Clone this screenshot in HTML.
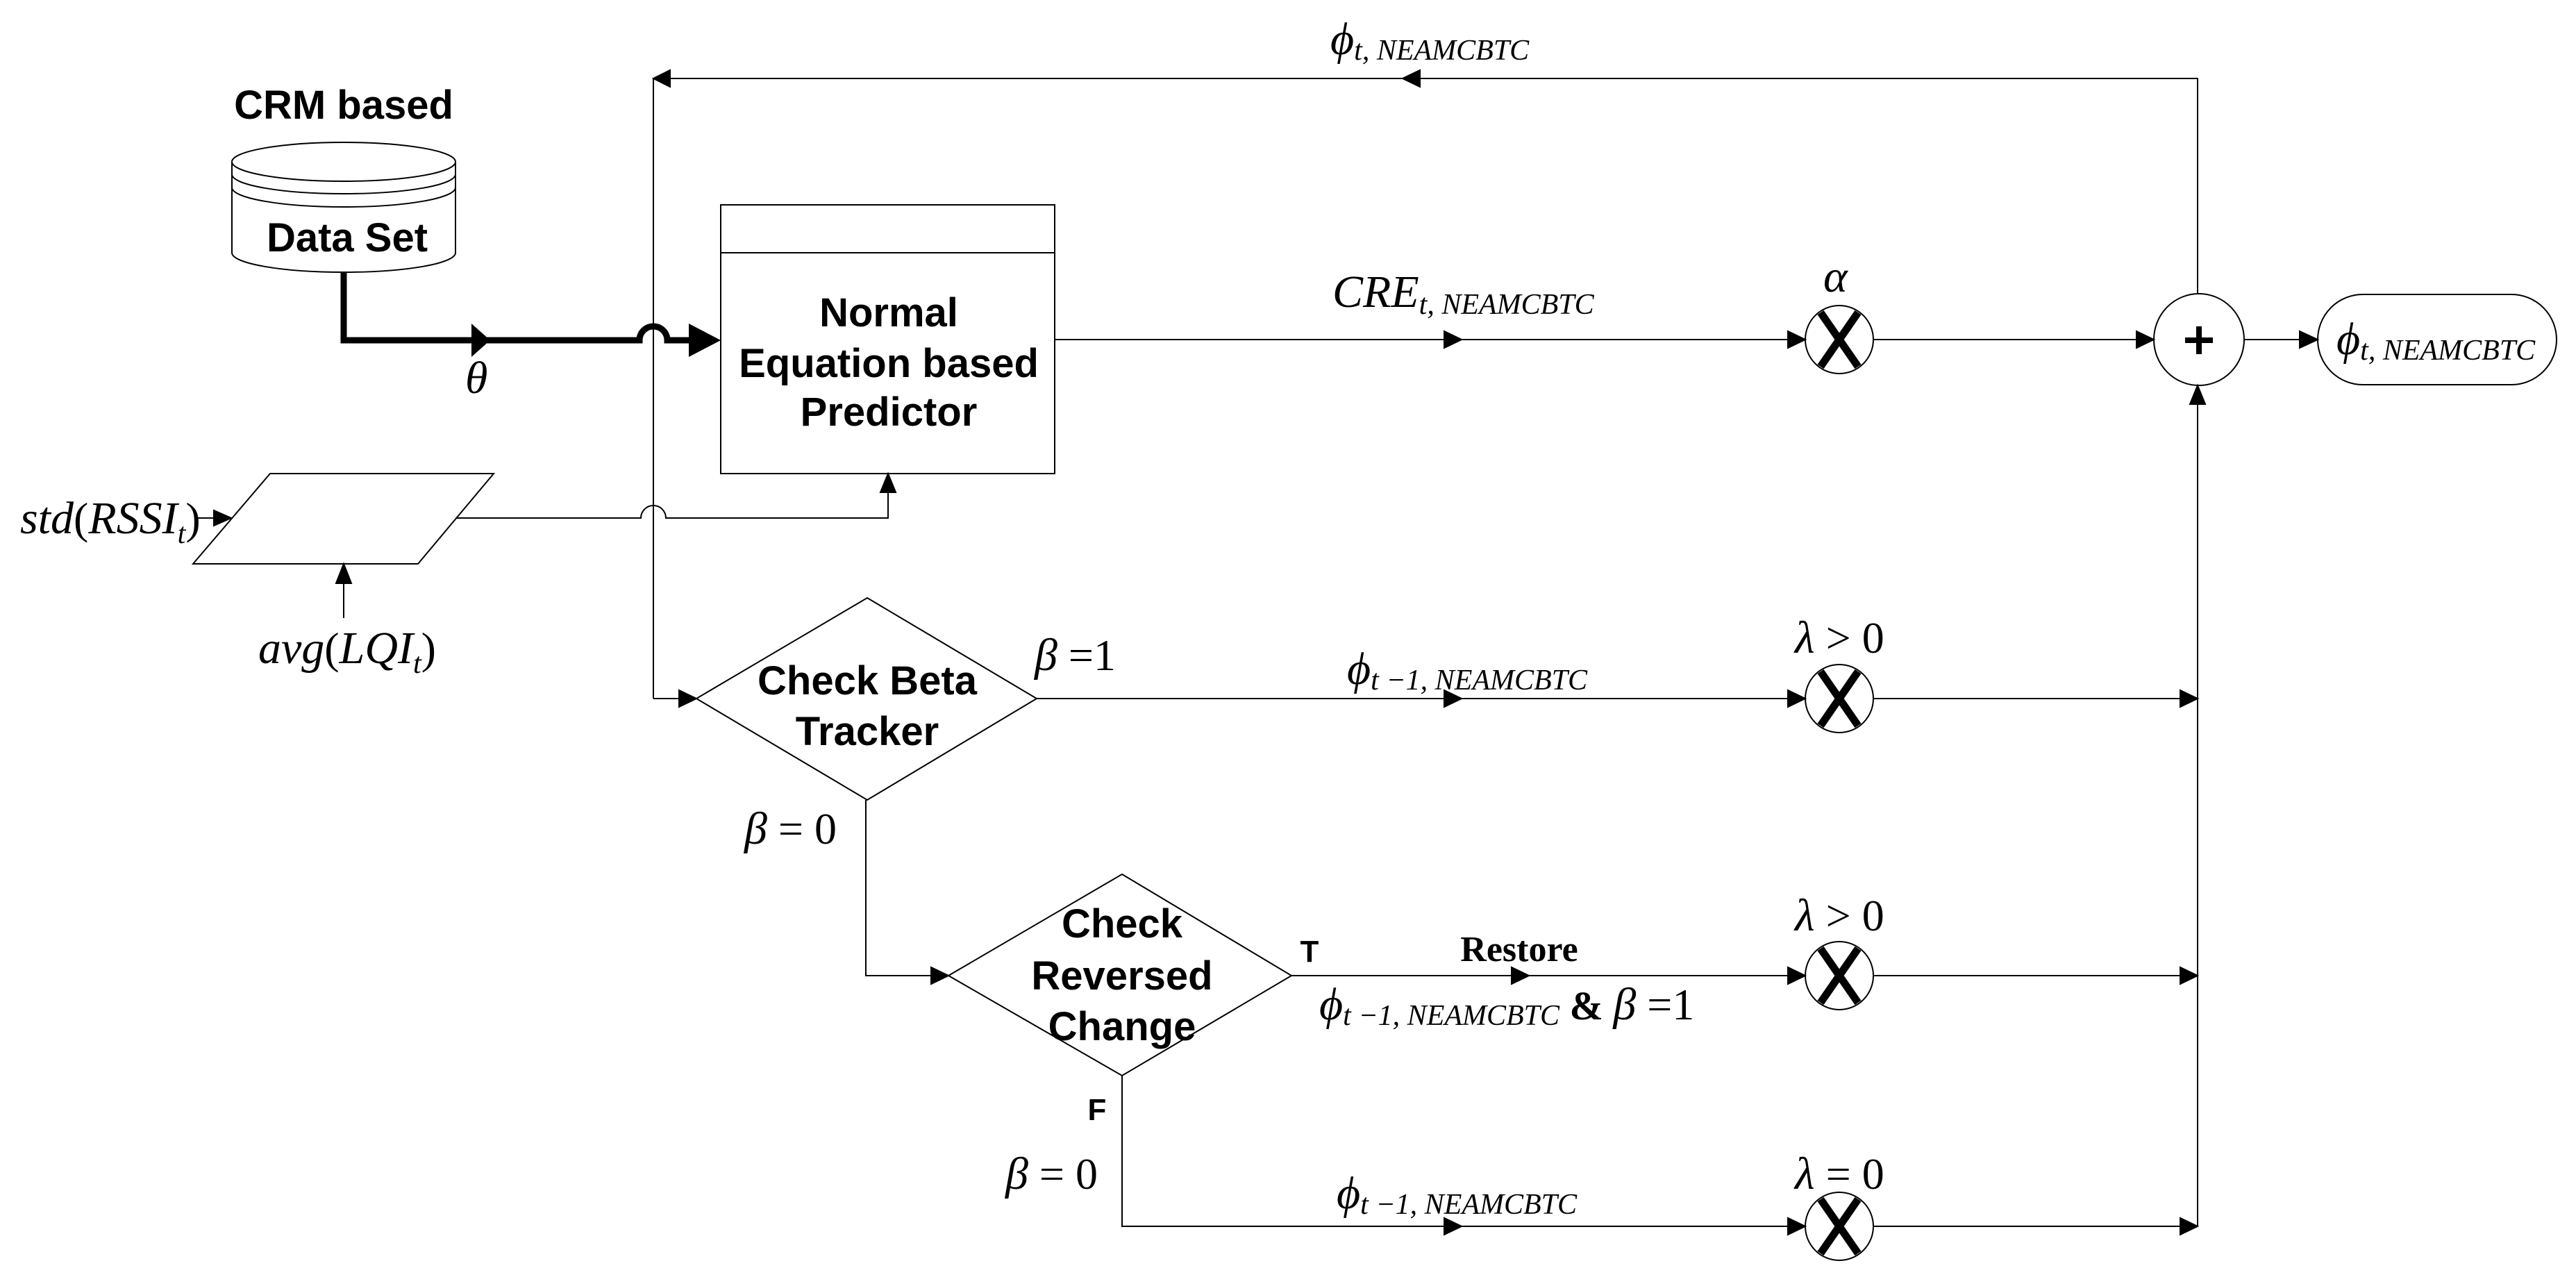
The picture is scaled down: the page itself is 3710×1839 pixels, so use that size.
<!DOCTYPE html>
<html><head><meta charset="utf-8"><style>
html,body{margin:0;padding:0;background:#fff}
svg{display:block}
.b{font-family:"Liberation Sans Narrow","Liberation Sans",sans-serif;font-weight:bold;font-size:58px;text-anchor:middle}
.m{font-family:"Liberation Serif",serif;font-style:italic;font-size:66px}
.s{font-family:"Liberation Serif",serif;font-style:italic;font-size:42px}
.r{font-family:"Liberation Serif",serif;font-size:64px}
</style></head><body>
<svg width="3710" height="1839" viewBox="0 0 3710 1839" xmlns="http://www.w3.org/2000/svg">
<g fill="none" stroke="#000" stroke-width="2">
<path d="M3165,423V113H941V1006"/>
<path d="M2045,101L2020,113L2045,125z" fill="#000"/>
<path d="M965,101L941,113L965,125z" fill="#000"/>
<path d="M334,233V364A161,28 0 0 0 656,364V233"/>
<ellipse cx="495" cy="233" rx="161" ry="28"/>
<path d="M334,251A161,28 0 0 0 656,251M334,270A161,28 0 0 0 656,270"/>
<path d="M495,392V490H921A20,20 0 0 1 961,490H995" stroke-width="9"/>
<path d="M679,466L706,490L679,514z" fill="#000" stroke="none"/>
<path d="M992,466L1038,490L992,514z" fill="#000" stroke="none"/>
<rect x="1038" y="295" width="481" height="387"/>
<path d="M1038,364H1519"/>
<path d="M389,682H711L602,812H278z"/>
<path d="M658,746H923A18,18 0 0 1 959,746H1279V682"/>
<path d="M1268,709L1279,682L1290,709z" fill="#000"/>
<path d="M283,746H330"/><path d="M308,735L333,746L308,757z" fill="#000"/>
<path d="M495,890V812"/><path d="M484,840L495,812L506,840z" fill="#000"/>
<path d="M1519,489H2600M2698,489H3102M3232,489H3338"/>
<path d="M2080,477L2105,489L2080,501z" fill="#000"/>
<path d="M2575,477L2600,489L2575,501z" fill="#000"/>
<path d="M3077,477L3102,489L3077,501z" fill="#000"/>
<path d="M3312,477L3338,489L3312,501z" fill="#000"/>
<ellipse cx="2649" cy="489" rx="49" ry="49"/>
<path d="M2622,450L2676,528M2676,450L2622,528" stroke-width="11"/>
<ellipse cx="3167" cy="489" rx="65" ry="66"/>
<rect x="3338" y="424" width="344" height="130" rx="65" ry="65"/>
<path d="M3165,555V1766"/>
<path d="M3154,582L3165,555L3176,582z" fill="#000"/>
<path d="M1249,861L1493,1006L1249,1152L1003,1006z"/>
<path d="M941,1006H1003"/><path d="M978,994L1003,1006L978,1018z" fill="#000"/>
<path d="M1493,1006H2600M2698,1006H3165"/>
<path d="M1247,1152V1405H1366"/><path d="M1341,1393L1366,1405L1341,1417z" fill="#000"/>
<path d="M1616,1259L1860,1405L1616,1549L1366,1405z"/>
<path d="M1860,1405H2600M2698,1405H3165"/>
<path d="M1616,1549V1766H2600M2698,1766H3165"/>
<g fill="#000">
<path d="M2080,994L2105,1006L2080,1018z"/><path d="M2575,994L2600,1006L2575,1018z"/><path d="M3140,994L3165,1006L3140,1018z"/>
<path d="M2177,1393L2202,1405L2177,1417z"/><path d="M2575,1393L2600,1405L2575,1417z"/><path d="M3140,1393L3165,1405L3140,1417z"/>
<path d="M2080,1754L2105,1766L2080,1778z"/><path d="M2575,1754L2600,1766L2575,1778z"/><path d="M3140,1754L3165,1766L3140,1778z"/>
</g>
<ellipse cx="2649" cy="1006" rx="49" ry="49"/><path d="M2622,967L2676,1045M2676,967L2622,1045" stroke-width="11"/>
<ellipse cx="2649" cy="1405" rx="49" ry="49"/><path d="M2622,1366L2676,1444M2676,1366L2622,1444" stroke-width="11"/>
<ellipse cx="2649" cy="1766" rx="49" ry="49"/><path d="M2622,1727L2676,1805M2676,1727L2622,1805" stroke-width="11"/>
</g>
<path d="M3167,470V510M3147,490H3187" stroke="#000" stroke-width="8"/>
<text class="b" x="495" y="171">CRM based</text>
<text class="b" x="500" y="362">Data Set</text>
<text class="b" x="1280" y="470">Normal</text>
<text class="b" x="1280" y="543">Equation based</text>
<text class="b" x="1280" y="613">Predictor</text>
<text class="b" x="1249" y="1000">Check Beta</text>
<text class="b" x="1249" y="1073">Tracker</text>
<text class="b" x="1616" y="1350">Check</text>
<text class="b" x="1616" y="1425">Reversed</text>
<text class="b" x="1616" y="1498">Change</text>
<text class="b" x="1886" y="1385" style="font-size:44px">T</text>
<text class="b" x="1580" y="1613" style="font-size:44px">F</text>
<text x="2188" y="1384" style="font-family:'Liberation Serif',serif;font-weight:bold;font-size:52px;text-anchor:middle">Restore</text>
<text class="m" x="670" y="566">θ</text>
<text x="29" y="768"><tspan class="m">std</tspan><tspan class="r">(</tspan><tspan class="m">RSSI</tspan><tspan class="s" dy="14">t</tspan><tspan class="r" dy="-14">)</tspan></text>
<text x="372" y="955"><tspan class="m">avg</tspan><tspan class="r">(</tspan><tspan class="m">LQI</tspan><tspan class="s" dy="14">t</tspan><tspan class="r" dy="-14">)</tspan></text>
<text x="1916" y="78"><tspan class="m">ϕ</tspan><tspan class="s" dy="8">t, NEAMCBTC</tspan></text>
<text x="1919" y="442"><tspan class="m">CRE</tspan><tspan class="s" dy="10">t, NEAMCBTC</tspan></text>
<text class="m" x="2626" y="420">α</text>
<text x="3365" y="510"><tspan class="m">ϕ</tspan><tspan class="s" dy="8">t, NEAMCBTC</tspan></text>
<text x="1490" y="965"><tspan class="m">β</tspan><tspan class="r"> =1</tspan></text>
<text x="1940" y="985"><tspan class="m">ϕ</tspan><tspan class="s" dy="8">t −1, NEAMCBTC</tspan></text>
<text x="2585" y="940"><tspan class="m">λ</tspan><tspan class="r"> &gt; 0</tspan></text>
<text x="1072" y="1215"><tspan class="m">β</tspan><tspan class="r"> = 0</tspan></text>
<text x="2585" y="1340"><tspan class="m">λ</tspan><tspan class="r"> &gt; 0</tspan></text>
<text x="1900" y="1468"><tspan class="m">ϕ</tspan><tspan class="s" dy="8">t −1, NEAMCBTC</tspan><tspan dy="-8" style="font-family:'Liberation Serif',serif;font-weight:bold;font-size:58px"> &amp; </tspan><tspan class="m">β</tspan><tspan class="r"> =1</tspan></text>
<text x="1448" y="1712"><tspan class="m">β</tspan><tspan class="r"> = 0</tspan></text>
<text x="1925" y="1740"><tspan class="m">ϕ</tspan><tspan class="s" dy="8">t −1, NEAMCBTC</tspan></text>
<text x="2585" y="1712"><tspan class="m">λ</tspan><tspan class="r"> = 0</tspan></text>
</svg>
</body></html>
